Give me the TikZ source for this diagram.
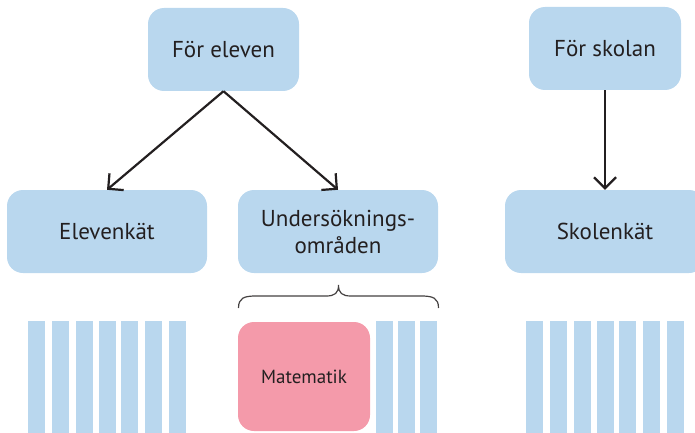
\documentclass[tikz,border=0pt]{standalone}
\usepackage{fontspec}
\setmainfont{PT Sans}
\usetikzlibrary{arrows.meta}
\definecolor{boxblue}{HTML}{B9D7EE}
\definecolor{boxpink}{HTML}{F49AAA}
\definecolor{inktext}{HTML}{231F20}
\tikzset{
  box/.style={fill=boxblue, rounded corners=16pt, minimum width=200pt, minimum height=83pt,
    inner sep=0pt, text=inktext, font=\fontsize{23}{27}\selectfont, align=center},
  conn/.style={draw=inktext, line width=2.2pt, -{Straight Barb[length=11pt,width=22pt]}},
  bar/.style={fill=boxblue},
  bracestyle/.style={draw=inktext!85, line width=1.2pt}
}
\begin{document}
\begin{tikzpicture}[x=1pt,y=-1pt]
\useasboundingbox (0,0) rectangle (695,433);
\node[box, minimum width=151pt] (fe) at (223.5,49.5) {För eleven};
\node[box, minimum width=152pt] (fs) at (605,48.5) {För skolan};
\node[box] (ek) at (107,231.5) {Elevenkät};
\node[box] (uo) at (338,231.5) {Undersöknings-\\områden};
\node[box] (sk) at (605,231.5) {Skolenkät};
\node[box, fill=boxpink, minimum width=132pt, minimum height=109pt, font=\fontsize{19}{23}\selectfont] (mat) at (304,376.5) {Matematik};
\draw[conn] (fe.south) -- (ek.north);
\draw[conn] (fe.south) -- (uo.north);
\draw[conn] (fs.south) -- (sk.north);
% brace
\draw[bracestyle] (238.5,308) .. controls (238.5,298) and (244,296) .. (256,296)
  -- (326,296) .. controls (335,296) and (338.5,293) .. (338.5,285)
  .. controls (338.5,293) and (342,296) .. (351,296)
  -- (421,296) .. controls (433,296) and (438.5,298) .. (438.5,308);
% bars
\foreach \x in {28,52,76,99,121,145,169}{\fill[bar] (\x,321) rectangle ++(17,112);}
\foreach \x in {376,398,420}{\fill[bar] (\x,321) rectangle ++(17,112);}
\foreach \x in {526,550,574,597,619,643,667}{\fill[bar] (\x,321) rectangle ++(17,112);}
\end{tikzpicture}
\end{document}
